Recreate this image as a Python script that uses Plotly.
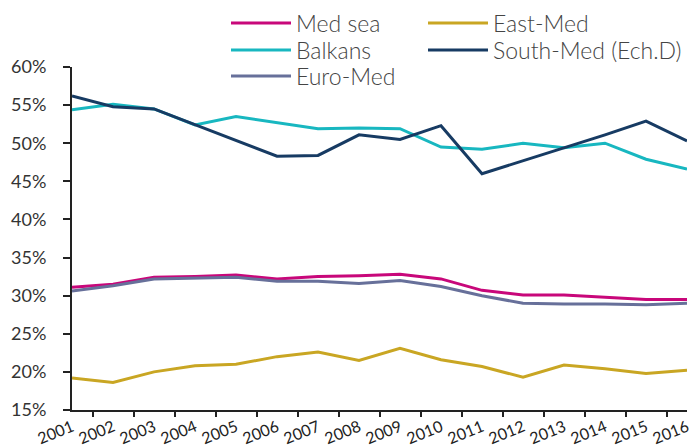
import plotly.graph_objects as go

years = [str(y) for y in range(2001, 2017)]

med_sea = [31.1, 31.5, 32.4, 32.5, 32.7, 32.2, 32.5, 32.6, 32.8, 32.2, 30.7, 30.1, 30.1, 29.8, 29.5, 29.5]
east_med = [19.2, 18.6, 20.0, 20.8, 21.0, 22.0, 22.6, 21.5, 23.1, 21.6, 20.7, 19.3, 20.9, 20.4, 19.8, 20.2]
balkans = [54.4, 55.1, 54.5, 52.4, 53.5, 52.7, 51.9, 52.0, 51.9, 49.5, 49.2, 50.0, 49.4, 50.0, 47.9, 46.6]
south_med = [56.2, 54.8, 54.5, 52.4, 50.3, 48.3, 48.4, 51.1, 50.5, 52.3, 46.0, 47.7, 49.3, 51.1, 52.9, 50.3]
euro_med = [30.6, 31.3, 32.2, 32.3, 32.4, 31.9, 31.9, 31.6, 32.0, 31.2, 30.0, 29.0, 28.9, 28.9, 28.8, 29.0]

y_ticks = [15, 20, 25, 30, 35, 40, 45, 50, 55, 60]
y_ticklabels = [f"{v}%" for v in y_ticks]

# (name, values, colour, legend id, legend column, legend row)
series = [
    ("Med sea", med_sea, "#C8077A", "legend", 0, 0),
    ("East-Med", east_med, "#C9A623", "legend2", 1, 0),
    ("Balkans", balkans, "#18B7C0", "legend3", 0, 1),
    ("South-Med (Ech.D)", south_med, "#173B63", "legend4", 1, 1),
    ("Euro-Med", euro_med, "#67709A", "legend5", 0, 2),
]

fig = go.Figure()
for name, vals, col, leg, _, _ in series:
    fig.add_trace(go.Scatter(x=years, y=vals, name=name, mode="lines", legend=leg,
                             line=dict(color=col, width=3)))

W, H = 696, 446
col_x = [226, 423]
row_y = [23, 50, 76]
font_family = "Lato, 'Open Sans', sans-serif"
legend_common = dict(orientation="v", xref="container", yref="container",
                     xanchor="left", yanchor="middle",
                     font=dict(size=23, color="#444444", weight=300), itemwidth=60,
                     tracegroupgap=0, bgcolor="rgba(0,0,0,0)")
legends = {}
for name, vals, col, leg, c, r in series:
    legends[leg] = dict(x=col_x[c] / W, y=1 - row_y[r] / H, **legend_common)

fig.update_layout(
    width=W, height=H,
    margin=dict(l=72, r=9, t=67, b=36, autoexpand=False),
    paper_bgcolor="white", plot_bgcolor="white",
    font=dict(family=font_family, color="#333333"),
    showlegend=True,
    **legends,
    xaxis=dict(type="category", tickson="boundaries", ticks="outside", ticklen=5,
               tickwidth=2, tickcolor="#222222", showline=True, linecolor="#222222",
               linewidth=2, showgrid=False, tickangle=-22, automargin=False,
               ticklabelshift=0,
               tickfont=dict(size=16, color="#222222")),
    yaxis=dict(range=[15, 60], tickvals=y_ticks, ticktext=y_ticklabels, ticks="outside",
               ticklen=7, tickwidth=2, tickcolor="#222222", showline=True,
               linecolor="#222222", linewidth=2, showgrid=False, zeroline=False,
               automargin=False, ticklabelstandoff=13,
               tickfont=dict(size=18, color="#333333")),
)

fig.write_html("out.html", config={"displayModeBar": False},
               post_script="document.body.style.margin='0';")
